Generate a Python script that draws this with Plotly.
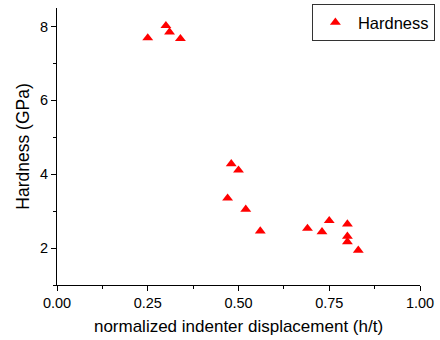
import plotly.graph_objects as go

x_disp = [0.25, 0.30, 0.31, 0.34, 0.48, 0.50, 0.47, 0.52, 0.56, 0.69, 0.73, 0.75, 0.80, 0.80, 0.80, 0.83]
hardness = [7.69, 8.02, 7.85, 7.67, 4.28, 4.11, 3.35, 3.05, 2.46, 2.53, 2.44, 2.74, 2.65, 2.32, 2.17, 1.94]
x_ticks = [0.0, 0.25, 0.5, 0.75, 1.0]
x_tick_labels = ["0.00", "0.25", "0.50", "0.75", "1.00"]
y_ticks = [2, 4, 6, 8]

fig = go.Figure()
fig.add_trace(go.Scatter(
    x=x_disp, y=hardness, mode="markers", name="Hardness",
    marker=dict(symbol="triangle-up", size=9.5, color="red", line=dict(width=0)),
))

font_family = "Liberation Sans, Arial, sans-serif"
fig.update_layout(
    width=440, height=340,
    margin=dict(l=57, r=20, t=8, b=55, autoexpand=False),
    paper_bgcolor="white", plot_bgcolor="white",
    font=dict(family=font_family, color="black", size=14),
    showlegend=True,
    legend=dict(
        x=1.041, y=1.014, xanchor="right", yanchor="top",
        bordercolor="#333", borderwidth=1, bgcolor="white",
        font=dict(size=16.5, family=font_family),
        itemwidth=35, tracegroupgap=0,
    ),
    xaxis=dict(
        range=[0, 1.0], tickvals=x_ticks, ticktext=x_tick_labels,
        showline=True, linecolor="black", linewidth=1,
        ticks="outside", ticklen=5, tickcolor="black", tickwidth=1,
        minor=dict(ticks="outside", ticklen=3, tickcolor="black", dtick=0.125, tick0=0),
        showgrid=False, zeroline=False,
        title=dict(text="normalized indenter displacement (h/t)", font=dict(size=17), standoff=9),
        tickfont=dict(size=14.5),
    ),
    yaxis=dict(
        range=[1, 8.5], tickvals=y_ticks,
        showline=True, linecolor="black", linewidth=1,
        ticks="outside", ticklen=5, tickcolor="black", tickwidth=1,
        minor=dict(ticks="outside", ticklen=3, tickcolor="black", dtick=1, tick0=1),
        showgrid=False, zeroline=False,
        title=dict(text="Hardness (GPa)", font=dict(size=17.5), standoff=5),
        tickfont=dict(size=14.5),
    ),
)

fig.write_html("out.html")
